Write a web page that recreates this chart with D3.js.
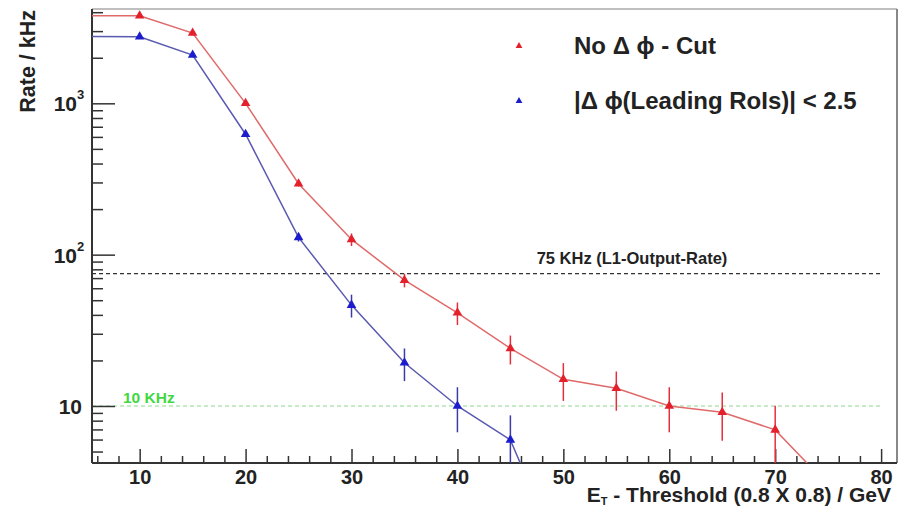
<!DOCTYPE html>
<html>
<head>
<meta charset="utf-8">
<script src="https://cdn.jsdelivr.net/npm/d3@7"></script>
<style>
  html, body { margin: 0; padding: 0; background: #fff; }
  svg text { font-family: "Liberation Sans", Arial, sans-serif; font-weight: bold; }
</style>
</head>
<body>
<div id="chart"></div>
<script>
// E_T threshold (GeV)
var thresholds = [5, 10, 15, 20, 25, 30, 35, 40, 45, 50, 55, 60, 65, 70, 75];
// rate in kHz, no delta-phi cut
var rateNoCut = [3790, 3786, 2913, 1000, 294, 126, 67.8, 41.3, 24.0, 15.0, 13.1, 10.0, 9.1, 6.95, 3.0];
var errNoCut  = [40, 40, 40, 25, 12, 12, 7, 7, 5.2, 4.2, 3.8, 3.3, 3.2, 3.1, 0.9];
// rate in kHz, |dphi(leading RoIs)| < 2.5
var thresholdsCut = [5, 10, 15, 20, 25, 30, 35, 40, 45, 50];
var rateCut = [2760, 2754, 2085, 625, 130, 46.4, 19.3, 10.0, 5.97, 0.9];
var errCut  = [30, 30, 30, 20, 8, 8, 4.7, 3.3, 2.7, 0.3];

var xMajor = [10, 20, 30, 40, 50, 60, 70, 80];
var yMajor = [10, 100, 1000];
var yLabels = [{base: "10", sup: ""}, {base: "10", sup: "2"}, {base: "10", sup: "3"}];
var refLines = [{value: 75, text: "75 KHz (L1-Output-Rate)", color: "#333", labelColor: "#222"},
                {value: 10, text: "10 KHz", color: "#8fd88f", labelColor: "#3fd83f"}];
var legendItems = [{text: "No \u0394 \u03d5 - Cut", color: "#e3202c"},
                   {text: "|\u0394 \u03d5(Leading RoIs)| < 2.5", color: "#1c1ccc"}];

var W = 903, H = 510;
var mLeft = 92, mRight = 897, mTop = 9, mBottom = 463;

var svg = d3.select("#chart").append("svg").attr("width", W).attr("height", H);

var x = d3.scaleLinear().domain([5.5, 81.5]).range([mLeft, mRight]);
var y = d3.scaleLog().domain([4.2, 4200]).range([mBottom, mTop]);

svg.append("clipPath").attr("id", "plot-clip")
  .append("rect").attr("x", mLeft).attr("y", mTop).attr("width", mRight - mLeft).attr("height", mBottom - mTop);

// frame (top / right lighter)
svg.append("line").attr("x1", mLeft).attr("x2", mRight).attr("y1", mTop).attr("y2", mTop)
  .attr("stroke", "#aaa").attr("stroke-width", 1.5);
svg.append("line").attr("x1", mRight).attr("x2", mRight).attr("y1", mTop).attr("y2", mBottom)
  .attr("stroke", "#888").attr("stroke-width", 2);

// reference lines
refLines.forEach(function(r) {
  svg.append("line")
    .attr("x1", x(5.5)).attr("x2", x(80))
    .attr("y1", y(r.value)).attr("y2", y(r.value))
    .attr("stroke", r.color).attr("stroke-width", 1.2)
    .attr("stroke-dasharray", "4,3");
});
svg.append("text").attr("x", 632).attr("y", y(75) - 10)
  .attr("text-anchor", "middle").attr("font-size", 16.5).attr("fill", refLines[0].labelColor)
  .text(refLines[0].text);
svg.append("text").attr("x", 123).attr("y", y(10) - 3)
  .attr("font-size", 15.5).attr("fill", refLines[1].labelColor)
  .text(refLines[1].text);

// x axis
var xMinor = d3.range(6, 81, 2).filter(function(v) { return v % 10 !== 0; });
var gxMinor = svg.append("g").attr("transform", "translate(0," + mBottom + ")")
  .call(d3.axisBottom(x).tickValues(xMinor).tickSize(-7).tickFormat(""));
var gx = svg.append("g").attr("transform", "translate(0," + mBottom + ")")
  .call(d3.axisBottom(x).tickValues(xMajor).tickSize(-14).tickPadding(7).tickFormat(d3.format("d")));
gx.attr("font-family", null);
gx.selectAll("text").attr("fill", "#222").attr("font-size", 20);
[gx, gxMinor].forEach(function(g) {
  g.select(".domain").remove();
  g.selectAll("line").attr("stroke", "#333").attr("stroke-width", 1.5);
});
svg.append("line").attr("x1", mLeft).attr("x2", mRight).attr("y1", mBottom).attr("y2", mBottom)
  .attr("stroke", "#333").attr("stroke-width", 2);

// y axis
var yMinor = [];
[1, 10, 100, 1000].forEach(function(d) {
  for (var k = 2; k <= 9; k++) { var v = d * k; if (v >= 4.2 && v <= 4200) yMinor.push(v); }
});
var gyMinor = svg.append("g").attr("transform", "translate(" + mLeft + ",0)")
  .call(d3.axisLeft(y).tickValues(yMinor).tickSize(-11).tickFormat(""));
var gy = svg.append("g").attr("transform", "translate(" + mLeft + ",0)")
  .call(d3.axisLeft(y).tickValues(yMajor).tickSize(-23).tickFormat(""));
[gy, gyMinor].forEach(function(g) {
  g.select(".domain").remove();
  g.selectAll("line").attr("stroke", "#333").attr("stroke-width", 1.5);
});
svg.append("line").attr("x1", mLeft).attr("x2", mLeft).attr("y1", mTop).attr("y2", mBottom)
  .attr("stroke", "#333").attr("stroke-width", 2);

svg.selectAll(".ylab").data(yMajor).enter().append("text")
  .attr("class", "ylab")
  .attr("x", function(d, i) { return yLabels[i].sup ? 77 : 82; })
  .attr("y", function(d) { return y(d) + 8; })
  .attr("text-anchor", "end").attr("font-size", 21).attr("fill", "#222")
  .text(function(d, i) { return yLabels[i].base; });
svg.selectAll(".ysup").data(yMajor).enter().append("text")
  .attr("class", "ysup")
  .attr("x", 77).attr("y", function(d) { return y(d) - 4; })
  .attr("font-size", 13).attr("fill", "#222")
  .text(function(d, i) { return yLabels[i].sup; });

// axis titles
svg.append("text")
  .attr("transform", "translate(35,10) rotate(-90)")
  .attr("text-anchor", "end").attr("font-size", 21.5).attr("fill", "#222")
  .text("Rate / kHz");
var xt = svg.append("text").attr("x", 891).attr("y", 502)
  .attr("text-anchor", "end").attr("font-size", 21).attr("fill", "#222");
xt.append("tspan").text("E");
xt.append("tspan").attr("font-size", 11).attr("dy", 3).text("T");
xt.append("tspan").attr("dy", -3).text(" - Threshold (0.8 X 0.8) / GeV");

// series
var series = [
  {xs: thresholds, ys: rateNoCut, es: errNoCut, line: "#e06a6a", mark: "#e3202c", bar: "#e3303c"},
  {xs: thresholdsCut, ys: rateCut, es: errCut, line: "#5a5ab0", mark: "#1c1ccc", bar: "#3c3ca8"}
];
var plot = svg.append("g").attr("clip-path", "url(#plot-clip)");
var tri = d3.symbol().type(d3.symbolTriangle).size(40);

series.forEach(function(s) {
  var pts = s.xs.map(function(v, i) { return {x: v, y: s.ys[i], e: s.es[i]}; });
  plot.append("path")
    .datum(pts)
    .attr("fill", "none").attr("stroke", s.line).attr("stroke-width", 1.5)
    .attr("d", d3.line().x(function(d) { return x(d.x); }).y(function(d) { return y(d.y); }));
  plot.selectAll(null).data(pts).enter().append("line")
    .attr("x1", function(d) { return x(d.x); }).attr("x2", function(d) { return x(d.x); })
    .attr("y1", function(d) { return y(d.y + d.e); })
    .attr("y2", function(d) { return y(Math.max(d.y - d.e, 0.01)); })
    .attr("stroke", s.bar).attr("stroke-width", 1.5);
  plot.selectAll(null).data(pts).enter().append("path")
    .attr("d", tri)
    .attr("transform", function(d) { return "translate(" + x(d.x) + "," + y(d.y) + ")"; })
    .attr("fill", s.mark);
});

// legend
var legTri = d3.symbol().type(d3.symbolTriangle).size(20);
legendItems.forEach(function(it, i) {
  var ly = 46 + i * 55;
  svg.append("path").attr("d", legTri)
    .attr("transform", "translate(519," + ly + ")").attr("fill", it.color);
  svg.append("text").attr("x", 574).attr("y", ly + 8)
    .attr("font-size", 24).attr("fill", "#222").text(it.text);
});
</script>
</body>
</html>
